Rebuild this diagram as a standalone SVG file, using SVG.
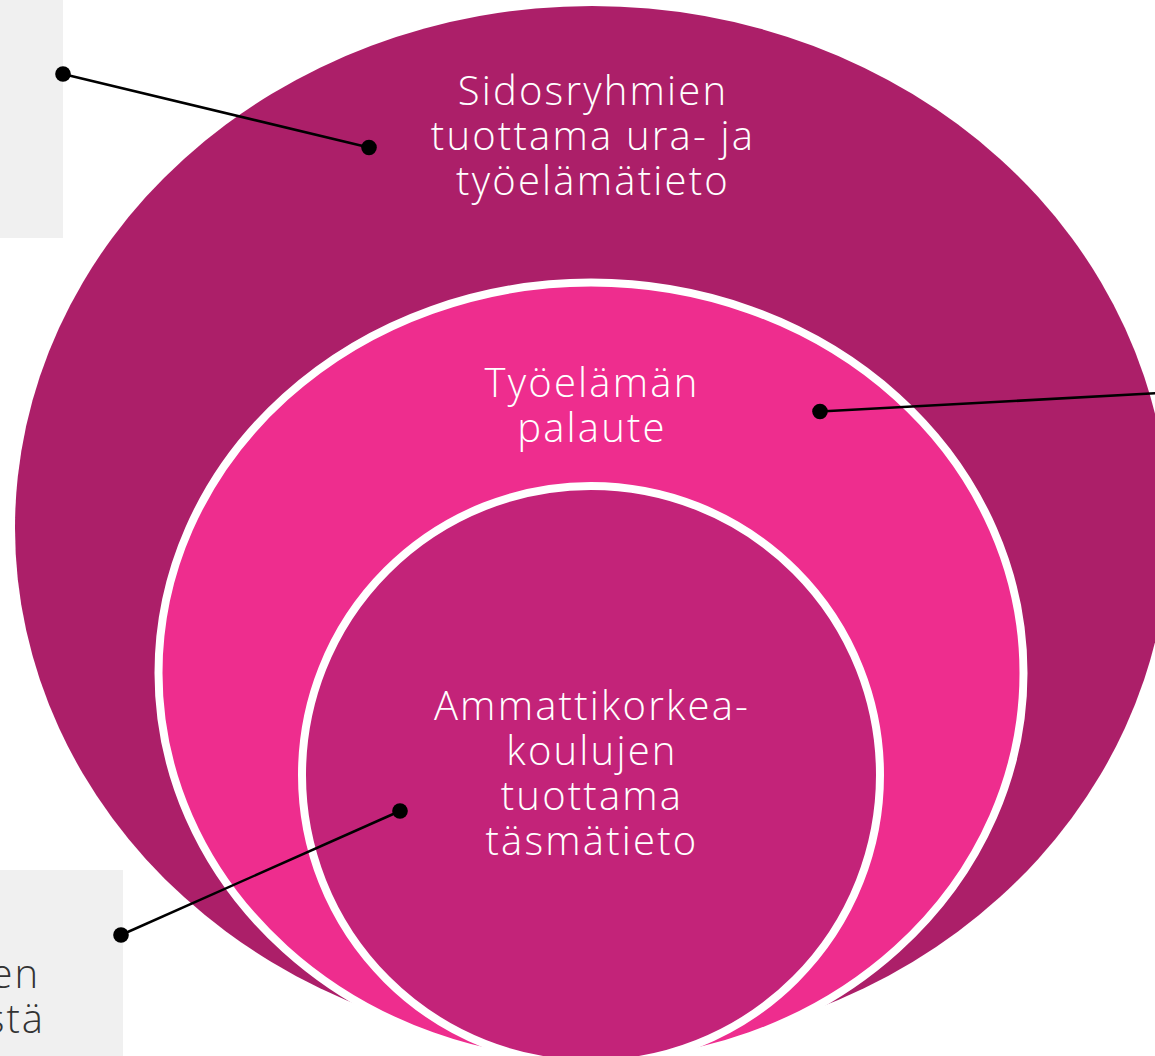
<svg xmlns="http://www.w3.org/2000/svg" width="1155" height="1056" viewBox="0 0 1155 1056">
<style>
.box{fill:#f0f0f0}
.lbl{font-family:"Open Sans","Liberation Sans",sans-serif;font-weight:300;font-size:40px;fill:#ffffff;text-anchor:middle;letter-spacing:2.2px}
.side{font-family:"Open Sans","Liberation Sans",sans-serif;font-weight:300;font-size:40px;fill:#333333;text-anchor:end;letter-spacing:2px}
.conn{stroke:#000;stroke-width:2.5;fill:none}
.dot{fill:#000}
</style>
<rect width="1155" height="1056" fill="#ffffff"/>
<g id="box-top"><rect class="box" x="0" y="0" width="63" height="238"/></g>
<g id="box-bottom"><rect class="box" x="0" y="870" width="123" height="186"/>
<text class="side" x="40" y="988">en</text>
<text class="side" x="45" y="1033">stä</text></g>
<g id="outer">
<ellipse cx="592" cy="528" rx="577" ry="522" fill="#ac1f69"/>
<text class="lbl" x="593" y="105">Sidosryhmien</text>
<text class="lbl" x="593" y="150">tuottama ura- ja</text>
<text class="lbl" x="593" y="195">työelämätieto</text>
</g>
<g id="middle">
<ellipse cx="591" cy="673" rx="432.5" ry="390.5" fill="#ee2d8e" stroke="#ffffff" stroke-width="8"/>
<text class="lbl" x="592" y="397">Työelämän</text>
<text class="lbl" x="592" y="442">palaute</text>
</g>
<g id="inner">
<circle cx="591" cy="775" r="289" fill="#c32379" stroke="#ffffff" stroke-width="8"/>
<text class="lbl" x="592" y="720">Ammattikorkea-</text>
<text class="lbl" x="592" y="765">koulujen</text>
<text class="lbl" x="592" y="810">tuottama</text>
<text class="lbl" x="592" y="855">täsmätieto</text>
</g>
<g id="connectors">
<line class="conn" x1="63" y1="74" x2="369" y2="147.5"/>
<circle class="dot" cx="63" cy="74" r="7.8"/>
<circle class="dot" cx="369" cy="147.5" r="7.8"/>
<line class="conn" x1="820" y1="411.5" x2="1165" y2="392.8"/>
<circle class="dot" cx="820" cy="411.5" r="7.8"/>
<line class="conn" x1="121" y1="935" x2="400" y2="811"/>
<circle class="dot" cx="121" cy="935" r="7.8"/>
<circle class="dot" cx="400" cy="811" r="7.8"/>
</g>
</svg>
